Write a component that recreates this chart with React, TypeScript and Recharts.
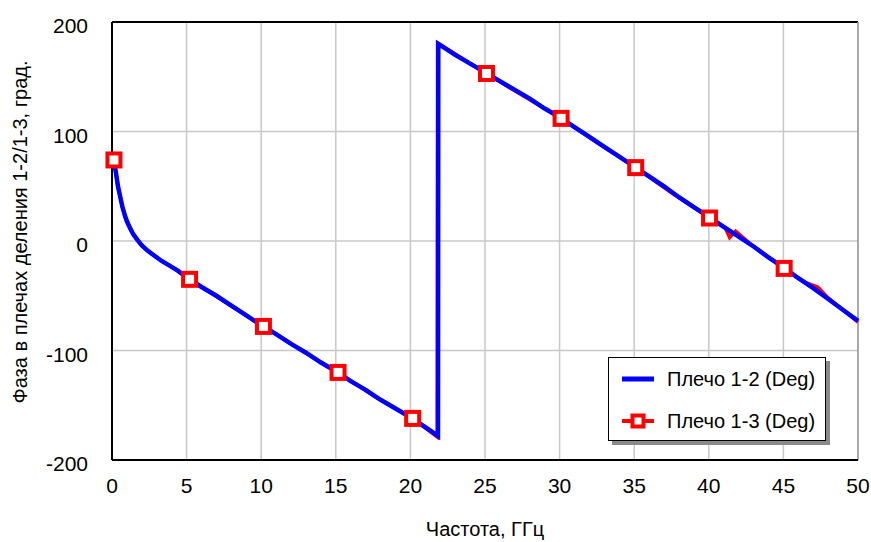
import { CartesianGrid, Legend, Line, LineChart, ReferenceLine, XAxis, YAxis } from "recharts";

// Плечо 1-2: частота, ГГц / фаза, град.
const freq12 = [
  0.13, 0.2, 0.3, 0.4, 0.54, 0.7, 0.87, 1.0, 1.2, 1.43, 1.7, 2.0, 2.4, 2.8, 3.3, 3.8, 4.4, 5, 6, 7, 8, 9, 10, 11, 12,
  13, 14, 15, 16, 17, 18, 19, 20, 21, 21.85, 21.87, 23, 24, 25, 26, 27, 28, 29, 30, 31, 32, 33, 34, 35, 36, 37, 38,
  39, 40, 41, 42, 43, 44, 45, 46, 47, 48, 49, 50,
];
const phase12 = [
  76, 68, 59, 50, 41, 31, 23, 18, 12, 6, 1, -4, -9, -13, -18, -22, -27, -33, -42, -50, -59, -68, -77, -85, -94, -102,
  -111, -119, -128, -136, -145, -153, -161, -170, -178, 180, 170, 162, 154, 146, 138, 130, 121, 113, 104, 95, 86, 77,
  68, 59, 50, 40, 31, 22, 13, 4, -5, -15, -24, -34, -43, -53, -63, -73,
];

// Плечо 1-3
const freq13 = [
  0.13, 0.2, 0.3, 0.4, 0.54, 0.7, 0.87, 1.0, 1.2, 1.43, 1.7, 2.0, 2.4, 2.8, 3.3, 3.8, 4.4, 5.2, 7.5, 10.15, 12.5,
  15.15, 17.5, 20.15, 21.8, 21.82, 25.1, 27.5, 30.1, 32.5, 35.1, 37.5, 40.05, 41.1, 41.4, 41.8, 43, 45.05, 46.5, 47.3,
  48, 49, 50,
];
const phase13 = [
  74, 68, 59, 50, 41, 31, 23, 18, 12, 6, 1, -4, -9, -13, -18, -22, -27, -35, -55, -78, -98, -120, -141, -162, -179,
  181, 153, 133, 112, 90, 67, 44, 21, 12, 3, 9, -5, -25, -38, -42, -52, -63, -74,
];
const markerFreqs = [0.13, 5.2, 10.15, 15.15, 20.15, 25.1, 30.1, 35.1, 40.05, 45.05];

const xTicks = [0, 5, 10, 15, 20, 25, 30, 35, 40, 45, 50];
const yTicks = [-200, -100, 0, 100, 200];

const data12 = freq12.map((f, i) => ({ f, v: phase12[i] }));
const data13 = freq13.map((f, i) => ({ f, v: phase13[i] }));

const narrow = "'Liberation Sans Narrow', 'Arial Narrow', 'Liberation Sans', Arial, sans-serif";
const regular = "'Liberation Sans', Arial, sans-serif";

function SquareDot(props: any) {
  const { cx, cy, payload, index } = props;
  if (!markerFreqs.includes(payload.f)) return <g key={`e-${index}`} />;
  return (
    <rect key={`m-${index}`} x={cx - 6.5} y={cy - 6.5} width={13} height={13} fill="#fff" stroke="#ff0000" strokeWidth={4} />
  );
}

function LegendBox(props: any) {
  const items = props.payload || [];
  return (
    <div
      style={{
        width: 216,
        height: 82,
        background: "#fff",
        border: "1.5px solid #000",
        boxShadow: "4px 4px 0 #8a8a8a",
        fontFamily: regular,
        fontSize: 20,
        color: "#000",
      }}
    >
      {items.map((it: any) => (
        <div key={it.value} style={{ height: 42, display: "flex", alignItems: "center" }}>
          <svg width={58} height={20} style={{ flexShrink: 0 }}>
            <line x1={13} y1={10} x2={45} y2={10} stroke={it.color} strokeWidth={it.color === "#0000ff" ? 5 : 4} />
            {it.color === "#ff0000" && (
              <rect x={23.5} y={4.5} width={11} height={11} fill="#fff" stroke="#ff0000" strokeWidth={4} />
            )}
          </svg>
          <span>{it.value}</span>
        </div>
      ))}
    </div>
  );
}

function YLabel() {
  return (
    <text
      x={20}
      y={232}
      transform="rotate(-90 20 232)"
      textAnchor="middle"
      dominantBaseline="central"
      fontFamily={narrow}
      fontSize={20}
      fill="#000"
    >
      Фаза в плечах деления 1-2/1-3, град.
    </text>
  );
}

export default function App() {
  return (
    <div style={{ position: "absolute", left: 0, top: 0, width: 871, height: 542, background: "#fff" }}>
      <LineChart width={871} height={542} margin={{ top: 22, right: 13, bottom: 0, left: 0 }}>
        <CartesianGrid stroke="#c8c8c8" strokeWidth={1.5} verticalValues={xTicks} horizontalValues={yTicks} />
        <XAxis
          dataKey="f"
          type="number"
          domain={[0, 50]}
          ticks={xTicks}
          height={82}
          tickSize={0}
          tickMargin={18}
          axisLine={{ stroke: "#000", strokeWidth: 2 }}
          tick={{ fill: "#000", fontSize: 21, fontFamily: narrow }}
          label={{ value: "Частота, ГГц", position: "insideBottom", offset: 6, fill: "#000", fontSize: 20, fontFamily: narrow }}
        />
        <YAxis
          type="number"
          domain={[-200, 200]}
          ticks={yTicks}
          width={112}
          tickSize={0}
          tickMargin={24}
          axisLine={{ stroke: "#000", strokeWidth: 2 }}
          tick={{ fill: "#000", fontSize: 21, fontFamily: narrow, dy: 4 }}
          label={{ content: () => <YLabel /> }}
        />
        <ReferenceLine y={200} stroke="#000" strokeWidth={2} />
        <ReferenceLine x={50} stroke="#9a9a9a" strokeWidth={1.5} />
        <Line
          data={data13}
          dataKey="v"
          name="Плечо 1-3 (Deg)"
          stroke="#ff0000"
          strokeWidth={3.5}
          dot={SquareDot}
          activeDot={false}
          isAnimationActive={false}
        />
        <Line
          data={data12}
          dataKey="v"
          name="Плечо 1-2 (Deg)"
          stroke="#0000ff"
          strokeWidth={4.5}
          dot={false}
          activeDot={false}
          isAnimationActive={false}
        />
        <Legend
          layout="vertical"
          align="center"
          verticalAlign="middle"
          itemSorter={(it: any) => (it.color === "#0000ff" ? 0 : 1)}
          content={<LegendBox />}
          wrapperStyle={{ position: "absolute", left: 608, top: 357, width: 220 }}
        />
      </LineChart>
    </div>
  );
}
